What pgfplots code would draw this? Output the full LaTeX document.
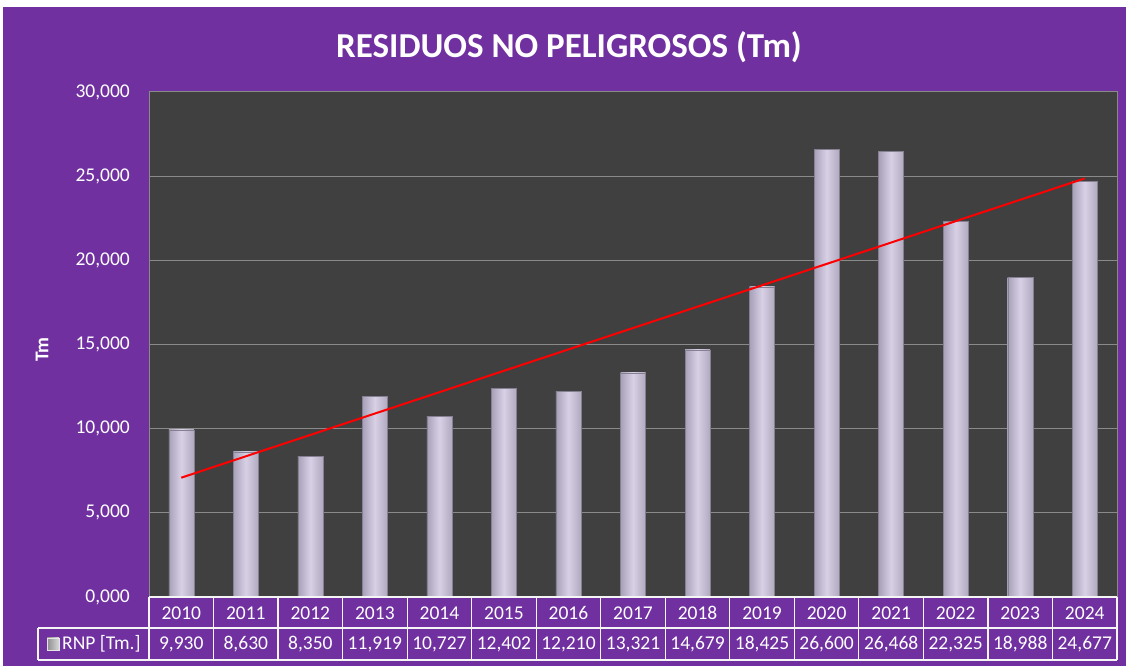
\documentclass[border=0pt]{standalone}
\usepackage{pgfplots}
\pgfplotsset{compat=1.18}
\usepackage{fontspec}
\setmainfont{Carlito}
\definecolor{bgpurple}{HTML}{7030A0}
\definecolor{plotbg}{HTML}{404040}
\definecolor{gridc}{HTML}{8A8A8A}
\definecolor{barmid}{HTML}{D8D1E6}
\definecolor{baredge}{HTML}{A8A0B8}
\tikzset{mybar/.style={ybar, bar width=25bp, bar shift=0pt, draw=baredge!80!black, line width=0.4bp, left color=baredge, right color=baredge!90, middle color=barmid}}
\begin{document}
\begin{tikzpicture}[x=1bp,y=1bp]
\path[use as bounding box, fill=white] (0,0) rectangle (1127,666);
\fill[bgpurple] (3,0) rectangle (1126,659);
\node[text=white, font=\fontsize{35bp}{40bp}\selectfont\bfseries] at (569,619) {RESIDUOS NO PELIGROSOS (Tm)};
\begin{axis}[
  at={(149bp,69bp)}, anchor=south west,
  width=968bp, height=505bp, scale only axis,
  xmin=-0.5, xmax=14.5, ymin=0, ymax=30000,
  scaled y ticks=false,
  axis background/.style={fill=plotbg},
  axis line style={draw=gridc, line width=1bp},
  ymajorgrids, grid style={draw=gridc, line width=1bp},
  ytick={0,5000,10000,15000,20000,25000,30000},
  yticklabels={{0,000},{5,000},{10,000},{15,000},{20,000},{25,000},{30,000}},
  yticklabel style={inner sep=0pt, xshift=-19bp, text=white, font=\fontsize{19.5bp}{22bp}\selectfont},
  ytick style={draw=none},
  xtick={0,...,14},
  xticklabels={2010,2011,2012,2013,2014,2015,2016,2017,2018,2019,2020,2021,2022,2023,2024},
  xticklabel style={inner sep=0pt, anchor=center, yshift=-16bp, text=white, font=\fontsize{19.5bp}{22bp}\selectfont},
  extra x ticks={0,1,2,3,4,5,6,7,8,9,10,11,12,13,14},
  extra x tick labels={{9,930},{8,630},{8,350},{11,919},{10,727},{12,402},{12,210},{13,321},{14,679},{18,425},{26,600},{26,468},{22,325},{18,988},{24,677}},
  extra x tick style={tick label style={yshift=-31bp}, major tick length=0pt},
  xtick style={draw=none},
  ylabel={\textbf{Tm}},
  ylabel style={at={(axis description cs:-0.1105,0.49)}, anchor=center, text=white, font=\fontsize{19.5bp}{22bp}\selectfont},
  clip=false,
]
\addplot[mybar] coordinates {(0,9930)};
\addplot[mybar] coordinates {(1,8630)};
\addplot[mybar] coordinates {(2,8350)};
\addplot[mybar] coordinates {(3,11919)};
\addplot[mybar] coordinates {(4,10727)};
\addplot[mybar] coordinates {(5,12402)};
\addplot[mybar] coordinates {(6,12210)};
\addplot[mybar] coordinates {(7,13321)};
\addplot[mybar] coordinates {(8,14679)};
\addplot[mybar] coordinates {(9,18425)};
\addplot[mybar] coordinates {(10,26600)};
\addplot[mybar] coordinates {(11,26468)};
\addplot[mybar] coordinates {(12,22325)};
\addplot[mybar] coordinates {(13,18988)};
\addplot[mybar] coordinates {(14,24677)};
\addplot[sharp plot, red, line width=2bp] coordinates {(0,7087) (14,24866)};
\end{axis}
% table grid
\begin{scope}[draw=white!92!gray, line width=1.2bp]
\draw (149,69) -- (1117,69);
\draw (38,38) -- (1117,38);
\draw (38,6) -- (1117,6);
\draw (38,38) -- (38,6);
\foreach \i in {0,...,15} {\draw ({149+\i*64.533},69) -- ({149+\i*64.533},6);}
\end{scope}
\shade[left color=gray!90, right color=gray!30, draw=white!80!gray, line width=0.5bp] (47,16) rectangle (59,28);
\node[anchor=west, inner sep=0pt, text=white, font=\fontsize{19.5bp}{22bp}\selectfont] at (62,22) {RNP [Tm.]};
\end{tikzpicture}
\end{document}
